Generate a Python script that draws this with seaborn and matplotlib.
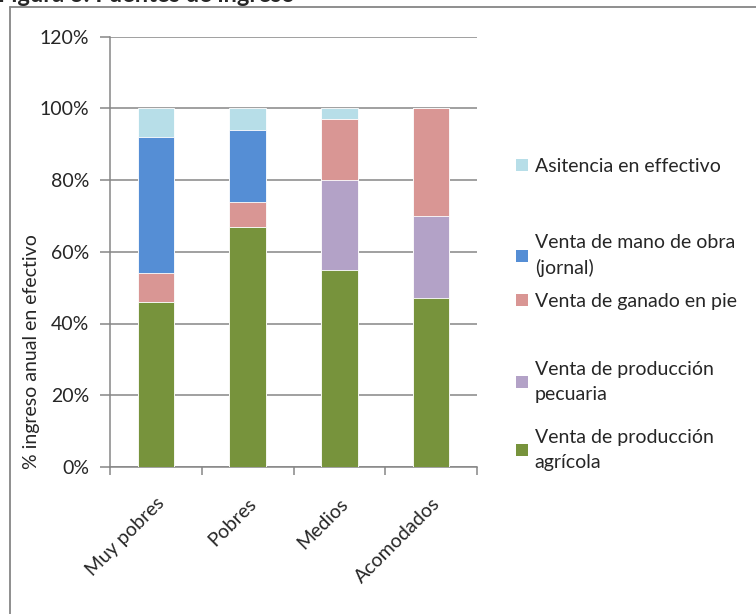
import matplotlib
matplotlib.use("Agg")
import numpy as np
import pandas as pd
import seaborn as sns
import matplotlib.pyplot as plt
from matplotlib.patches import Patch
from matplotlib.lines import Line2D
from matplotlib.ticker import FuncFormatter, FixedLocator

categories = ["Muy pobres", "Pobres", "Medios", "Acomodados"]

# stacked from bottom to top, percent of annual cash income
agricola = [46, 67, 55, 47]
pecuaria = [0, 0, 25, 23]
ganado = [8, 7, 17, 30]
jornal = [38, 20, 0, 0]
asistencia = [8, 6, 3, 0]

series_labels = [
    "Venta de producción\nagrícola",
    "Venta de producción\npecuaria",
    "Venta de ganado en pie",
    "Venta de mano de obra\n(jornal)",
    "Asitencia en effectivo",
]
colors = ["#77933C", "#B3A2C7", "#D99694", "#558ED5", "#B7DEE8"]

sns.set_style("white")
plt.rcParams["font.family"] = ["Lato", "DejaVu Sans"]
FS = 14

df = pd.DataFrame(
    {"agricola": agricola, "pecuaria": pecuaria, "ganado": ganado,
     "jornal": jornal, "asistencia": asistencia},
    index=categories,
)
cum = df.cumsum(axis=1)

fig = plt.figure(figsize=(7.56, 6.14), dpi=100)
ax = fig.add_axes([110 / 756, 1 - 467 / 614, 367 / 756, (467 - 36.5) / 614])

# draw cumulative totals from the top down so each layer covers the one above it
for col, color in reversed(list(zip(df.columns, colors))):
    sns.barplot(x=categories, y=cum[col].values, color=color, width=0.4,
                saturation=1, ax=ax, edgecolor="white", linewidth=0.6, zorder=3)

ax.set_ylim(0, 120)
ax.set_xlim(-0.5, 3.5)
ax.yaxis.set_major_locator(FixedLocator(np.arange(0, 121, 20)))
ax.yaxis.set_major_formatter(FuncFormatter(lambda v, p: f"{int(v)}%"))
ax.grid(axis="y", color="#868686", linewidth=1.1, zorder=0)
ax.set_axisbelow(True)

for s in ["top", "right"]:
    ax.spines[s].set_visible(False)
for s in ["left", "bottom"]:
    ax.spines[s].set_color("#868686")
    ax.spines[s].set_linewidth(1.1)

ax.set_xticks(range(len(categories)))
ax.set_xticklabels(categories, rotation=45, ha="right", va="top",
                   rotation_mode="anchor", fontsize=FS)
ax.set_xticks(np.arange(-0.5, 3.6, 1.0), minor=True)
ax.tick_params(axis="x", which="major", length=0, pad=20)
ax.tick_params(axis="x", which="minor", length=6, color="#868686", width=1.1,
               direction="out", bottom=True)
ax.tick_params(axis="y", length=7, color="#868686", width=1.1, direction="out",
               labelsize=FS, pad=8, left=True)
ax.set_xlabel("")
ax.set_ylabel("")

fig.text(32 / 756, 1 - 352 / 614, "% ingreso anual en efectivo", rotation=90,
         ha="center", va="center", fontsize=FS)

# legend entries, top to bottom, each placed at its own height
legend_tops = [158, 234, 293, 361, 429]
for lab, col, top in zip(series_labels[::-1], colors[::-1], legend_tops):
    leg = fig.legend([Patch(facecolor=col, edgecolor="none")], [lab],
                     loc="upper left", bbox_to_anchor=(516 / 756, 1 - top / 614),
                     frameon=False, fontsize=FS, handlelength=0.62,
                     handleheight=0.62, handletextpad=0.35, borderaxespad=0,
                     borderpad=0)
    for t in leg.get_texts():
        t.set_linespacing(1.55)

# chart border (cropped at right and bottom) and title cut off at the top
fig.add_artist(Line2D([10 / 756, 10 / 756], [0, 1 - 7 / 614],
                      transform=fig.transFigure, color="#868686", linewidth=1.3))
fig.add_artist(Line2D([10 / 756, 1], [1 - 7 / 614, 1 - 7 / 614],
                      transform=fig.transFigure, color="#868686", linewidth=1.3))
fig.text(-2 / 756, 1 - 2 / 614, "Figura 3: Fuentes de ingreso", fontsize=17,
         fontweight="bold", ha="left", va="baseline")

fig.savefig("out.png", dpi=100, facecolor="white")
